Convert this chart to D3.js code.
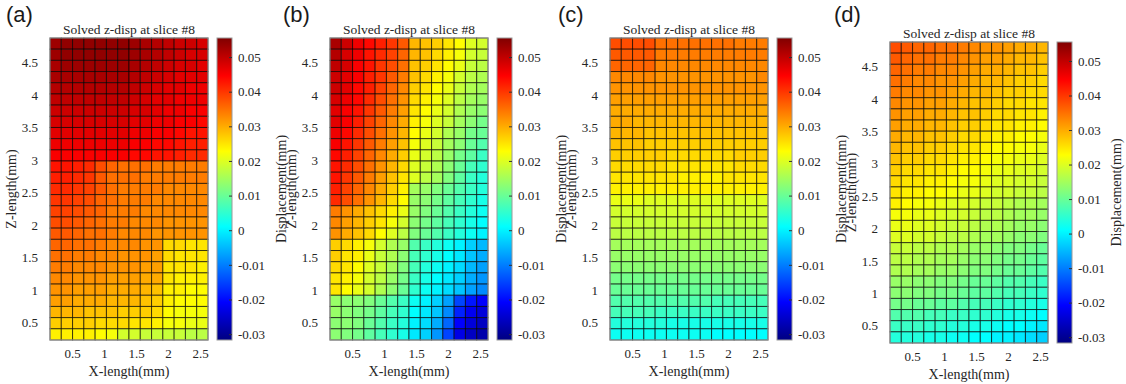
<!DOCTYPE html>
<html>
<head>
<meta charset="utf-8">
<script src="https://cdn.jsdelivr.net/npm/d3@7"></script>
<style>
  body { margin: 0; background: #fff; }
  svg text { font-family: "Liberation Serif", "Times New Roman", serif; fill: #262626; }
  svg text.letter { font-family: "Liberation Sans", Arial, sans-serif; fill: #1a1a1a; }
</style>
</head>
<body>
<svg id="chart" width="1126" height="384"></svg>
<script>
// Axis ticks
const xTicks = [0.5, 1, 1.5, 2, 2.5];
const zTicks = [0.5, 1, 1.5, 2, 2.5, 3, 3.5, 4, 4.5];
const cTicks = [-0.03, -0.02, -0.01, 0, 0.01, 0.02, 0.03, 0.04, 0.05];

const letters = ["(a)", "(b)", "(c)", "(d)"];
const title = "Solved z-disp at slice #8";

// Displacement per cell in micrometres (rows: top z -> bottom z, cols: left x -> right x)
const dispA = [
  [53,54,54,54,54,54,54,53,52,51,50,49,49,48],
  [53,54,54,54,54,54,54,53,52,51,50,49,48,48],
  [52,53,53,53,53,53,53,52,51,50,49,48,48,47],
  [52,52,52,52,52,52,52,51,50,49,48,47,47,47],
  [51,51,51,51,51,51,51,50,49,48,47,47,46,46],
  [50,50,50,50,50,50,50,49,48,47,47,46,46,46],
  [49,49,49,49,49,49,49,48,48,47,46,46,45,45],
  [48,48,48,48,48,48,48,47,47,46,46,45,45,44],
  [47,47,47,47,47,47,47,46,46,45,45,44,43,43],
  [46,46,46,46,46,46,46,45,45,44,44,43,42,42],
  [45,45,45,45,45,45,45,44,44,43,43,42,41,41],
  [43,43,42,41,38,36,35,35,35,34,34,34,34,34],
  [42,42,41,40,37,35,35,35,34,34,34,34,34,34],
  [41,41,40,39,37,35,34,34,34,34,33,33,33,33],
  [40,40,39,38,36,35,34,34,34,33,33,33,33,33],
  [39,39,38,37,36,34,34,34,33,33,33,33,33,33],
  [38,38,37,36,35,34,34,33,33,33,32,32,32,32],
  [37,37,36,35,35,34,33,33,33,32,32,32,32,32],
  [36,36,35,35,34,33,33,33,32,32,26,26,25,25],
  [35,35,34,34,33,33,32,32,32,31,26,25,25,25],
  [34,34,33,33,33,32,32,32,31,31,25,25,25,24],
  [33,33,32,32,32,31,31,31,30,30,25,24,24,24],
  [32,32,31,31,31,30,30,30,29,28,24,24,23,23],
  [31,31,30,30,30,29,29,29,28,27,24,23,23,23],
  [29,29,29,28,28,28,27,27,27,26,23,22,22,22],
  [27,27,27,27,26,26,26,25,25,24,22,22,21,21],
  [24,24,24,24,23,22,19,19,18,18,18,18,17,17]
];

const dispB = [
  [52,49,46,44,42,40,37,29,28,27,25,23,20,19],
  [51,48,46,43,41,39,36,29,28,26,24,22,19,18],
  [50,48,45,43,40,38,35,28,27,25,23,21,18,17],
  [49,47,45,42,40,37,34,28,26,24,22,19,17,16],
  [49,47,44,42,39,36,33,27,25,23,21,18,16,15],
  [48,46,44,41,38,35,32,26,24,22,20,17,15,14],
  [47,45,43,40,37,34,31,25,23,21,19,16,14,13],
  [47,45,42,39,36,33,30,24,22,20,18,15,13,11],
  [46,44,41,38,35,32,29,23,21,19,16,14,11,10],
  [45,43,40,37,34,31,28,22,20,18,15,13,10,8],
  [44,42,39,36,33,30,27,21,19,17,14,11,9,6],
  [43,41,38,35,32,29,26,20,18,16,13,10,7,5],
  [43,40,37,34,31,28,25,20,17,15,12,9,6,4],
  [42,39,36,33,30,27,24,15,14,12,10,8,6,4],
  [41,38,35,32,29,26,23,14,13,11,9,7,5,3],
  [34,32,30,28,26,24,21,14,12,10,8,6,4,2],
  [33,31,29,27,25,22,19,13,11,9,7,5,3,1],
  [32,30,28,26,23,20,17,12,10,8,6,4,2,0],
  [27,26,24,22,19,16,14,8,6,4,2,0,-3,-5],
  [27,25,24,21,18,16,13,7,5,3,1,-1,-4,-6],
  [26,25,23,20,18,15,12,7,4,2,0,-2,-5,-7],
  [25,24,22,19,17,14,11,6,3,1,-1,-3,-6,-8],
  [25,23,21,19,16,13,10,5,2,0,-2,-4,-7,-9],
  [14,13,13,12,10,8,6,2,0,-3,-7,-15,-19,-21],
  [14,13,12,11,9,7,5,1,-1,-4,-9,-18,-22,-24],
  [13,13,12,10,8,6,4,0,-2,-6,-12,-21,-24,-26],
  [13,12,11,9,7,5,3,-1,-3,-8,-15,-23,-26,-28]
];

const dispC = [
  [38,38,38,38,35,35,35,35,35,35,35,34,34,34],
  [37,37,37,37,34,34,34,34,34,34,34,34,34,34],
  [36,36,36,36,33,33,33,33,33,33,33,33,33,33],
  [33,33,33,33,32,32,32,32,32,32,32,32,32,33],
  [32,32,32,32,32,32,32,32,32,32,32,32,32,32],
  [31,31,31,31,31,31,31,31,31,31,31,31,31,31],
  [30,30,30,30,30,30,30,30,30,30,30,30,30,30],
  [30,30,29,29,29,29,29,29,29,29,29,29,29,29],
  [29,29,29,28,28,28,28,28,28,28,28,28,28,28],
  [28,28,28,27,27,27,27,27,27,27,27,27,27,27],
  [27,27,27,27,27,26,26,26,26,26,26,27,27,27],
  [26,26,26,26,26,25,25,25,25,25,25,26,26,26],
  [25,25,25,25,25,25,24,24,24,24,25,25,25,25],
  [24,24,24,24,24,24,24,24,24,24,24,24,24,24],
  [21,21,21,20,20,20,20,20,20,20,20,20,20,20],
  [19,19,19,19,19,19,19,19,19,19,19,19,19,19],
  [18,18,18,18,18,18,18,18,18,18,18,18,18,18],
  [17,17,17,17,17,17,17,17,17,17,17,17,17,17],
  [15,15,15,15,15,15,15,15,15,15,15,15,15,15],
  [14,14,14,14,14,14,14,14,14,14,14,14,14,14],
  [13,13,13,13,13,13,13,13,13,13,13,13,13,13],
  [11,11,11,11,11,11,11,11,11,11,11,11,11,11],
  [10,10,10,10,10,10,10,10,10,10,10,10,10,10],
  [8,8,8,8,8,8,8,8,8,7,7,7,7,7],
  [7,7,7,7,6,6,6,6,6,6,6,6,6,6],
  [4,4,4,4,4,3,3,3,3,3,3,3,3,3],
  [2,2,2,2,2,2,2,2,2,1,1,1,1,1]
];

const dispD = [
  [38,37,36,36,35,35,34,33,32,32,31,30,30,29],
  [37,36,35,35,34,34,33,32,31,31,30,29,29,28],
  [36,35,34,34,33,33,32,31,30,30,29,28,28,27],
  [35,34,33,33,32,32,31,30,29,29,28,27,27,26],
  [34,33,33,32,32,31,30,29,29,28,27,27,26,26],
  [33,32,32,31,31,30,29,28,28,27,26,26,25,25],
  [32,31,31,30,30,29,28,28,27,26,26,25,25,24],
  [31,30,30,29,29,28,27,27,26,25,25,24,24,23],
  [30,29,29,28,28,27,26,26,25,24,24,23,23,22],
  [29,28,28,27,27,26,25,25,24,23,23,22,22,21],
  [28,27,27,26,26,25,24,24,23,22,22,21,21,20],
  [27,26,26,25,25,24,23,23,22,21,21,20,20,19],
  [26,25,25,24,24,23,22,22,21,20,20,19,19,18],
  [25,24,24,23,23,22,21,21,20,19,19,18,18,17],
  [24,23,22,22,21,20,20,19,18,18,17,16,16,15],
  [22,22,21,21,20,19,19,18,17,17,16,15,15,14],
  [21,21,20,20,19,18,18,17,16,16,15,14,14,13],
  [20,20,19,19,18,17,17,16,15,15,14,13,13,12],
  [18,18,17,17,16,16,15,14,14,13,12,12,11,10],
  [17,17,16,16,15,15,14,13,13,12,11,11,10,9],
  [16,16,15,15,14,14,13,12,12,11,10,10,9,8],
  [14,14,13,13,12,12,11,10,10,9,8,8,7,6],
  [13,13,12,12,11,11,10,9,9,8,7,7,6,5],
  [11,11,10,10,9,9,8,7,7,6,5,5,4,3],
  [8,8,8,7,7,6,6,5,5,4,3,3,2,1],
  [6,6,6,5,5,4,4,3,3,2,1,1,0,-1],
  [4,4,4,3,3,2,2,1,1,0,0,-1,-2,-3]
];

const datasets = [dispA, dispB, dispC, dispD];

// Layout
const W = 1126;
const plotW = 158;
const layout = [
  { left: 50,  top: 38, bottom: 340, lx: 6 },
  { left: 330, top: 38, bottom: 340, lx: 283 },
  { left: 610, top: 38, bottom: 340, lx: 558 },
  { left: 890, top: 42, bottom: 343, lx: 834 }
];
const serif = '"Liberation Serif", "Times New Roman", serif';
const xDomain = [0.156, 2.625];
const zDomain = [0.234, 4.88];
const cDomain = [-0.0317, 0.0555];

// jet colormap
const jetPos = [0, 0.125, 0.375, 0.625, 0.875, 1];
const jetCols = ["#000080", "#0000ff", "#00ffff", "#ffff00", "#ff0000", "#800000"];
const color = d3.scaleLinear()
  .domain(jetPos.map(t => cDomain[0] + t * (cDomain[1] - cDomain[0])))
  .range(jetCols)
  .interpolate(d3.interpolateRgb)
  .clamp(true);

const svg = d3.select("#chart");
const defs = svg.append("defs");
const grad = defs.append("linearGradient")
  .attr("id", "jet").attr("x1", 0).attr("y1", 1).attr("x2", 0).attr("y2", 0);
grad.selectAll("stop").data(jetPos).enter().append("stop")
  .attr("offset", d => d)
  .attr("stop-color", (d, i) => jetCols[i]);

const fmt = d => d === 0 ? "0" : String(+d.toFixed(2));

layout.forEach((p, k) => {
  const data = datasets[k];
  const g = svg.append("g");
  const right = p.left + plotW;
  const x = d3.scaleLinear().domain(xDomain).range([p.left, right]);
  const z = d3.scaleLinear().domain(zDomain).range([p.bottom, p.top]);
  const col = d3.scaleBand().domain(d3.range(data[0].length)).range([p.left, right]);
  const row = d3.scaleBand().domain(d3.range(data.length)).range([p.top, p.bottom]);
  const c = d3.scaleLinear().domain(cDomain).range([p.bottom, p.top]);

  const cells = data.flatMap((r, i) => r.map((v, j) => ({ i, j, v: v / 1000 })));

  g.append("g").selectAll("rect")
    .data(cells)
    .enter().append("rect")
    .attr("x", d => col(d.j))
    .attr("y", d => row(d.i))
    .attr("width", col.bandwidth())
    .attr("height", row.bandwidth())
    .attr("fill", d => color(d.v))
    .attr("stroke", "rgba(0,0,0,0.66)")
    .attr("stroke-width", 1);

  g.append("rect")
    .attr("x", p.left).attr("y", p.top)
    .attr("width", plotW).attr("height", p.bottom - p.top)
    .attr("fill", "none").attr("stroke", "#9a9a9a").attr("stroke-width", 1);

  // axes
  const ax = g.append("g").attr("transform", `translate(${p.left},0)`)
    .call(d3.axisLeft(z).tickValues(zTicks).tickSize(0).tickPadding(12).tickFormat(String));
  const bx = g.append("g").attr("transform", `translate(0,${p.bottom})`)
    .call(d3.axisBottom(x).tickValues(xTicks).tickSize(0).tickPadding(9).tickFormat(String));
  [ax, bx].forEach(a => {
    a.select(".domain").remove();
    a.attr("font-family", serif).attr("font-size", 13);
  });

  // colorbar
  const cbX = p.left + 167, cbW = 15;
  g.append("rect")
    .attr("x", cbX).attr("y", p.top)
    .attr("width", cbW).attr("height", p.bottom - p.top)
    .attr("fill", "url(#jet)")
    .attr("stroke", "#9a9a9a").attr("stroke-width", 1);
  const cax = g.append("g").attr("transform", `translate(${cbX + cbW},0)`)
    .call(d3.axisRight(c).tickValues(cTicks).tickSizeInner(-3).tickSizeOuter(0).tickPadding(6).tickFormat(fmt));
  cax.select(".domain").remove();
  cax.attr("font-family", serif).attr("font-size", 13);
  cax.selectAll(".tick line").attr("stroke", "#333");

  // labels
  const mid = (p.top + p.bottom) / 2;
  g.append("text")
    .attr("x", p.left + plotW / 2).attr("y", p.top - 4)
    .attr("text-anchor", "middle").attr("font-size", 13.5)
    .text(title);
  g.append("text")
    .attr("x", p.left + plotW / 2).attr("y", p.bottom + 36)
    .attr("text-anchor", "middle").attr("font-size", 14)
    .text("X-length(mm)");
  g.append("text")
    .attr("transform", `translate(${p.left - 34},${mid}) rotate(-90)`)
    .attr("text-anchor", "middle").attr("font-size", 14)
    .text("Z-length(mm)");
  g.append("text")
    .attr("transform", `translate(${Math.min(p.left + 236, W - 5)},${mid}) rotate(-90)`)
    .attr("text-anchor", "middle").attr("font-size", 14)
    .text("Displacement(mm)");
  g.append("text")
    .attr("class", "letter")
    .attr("x", p.lx).attr("y", 22)
    .attr("font-size", 22)
    .text(letters[k]);
});
</script>
</body>
</html>
